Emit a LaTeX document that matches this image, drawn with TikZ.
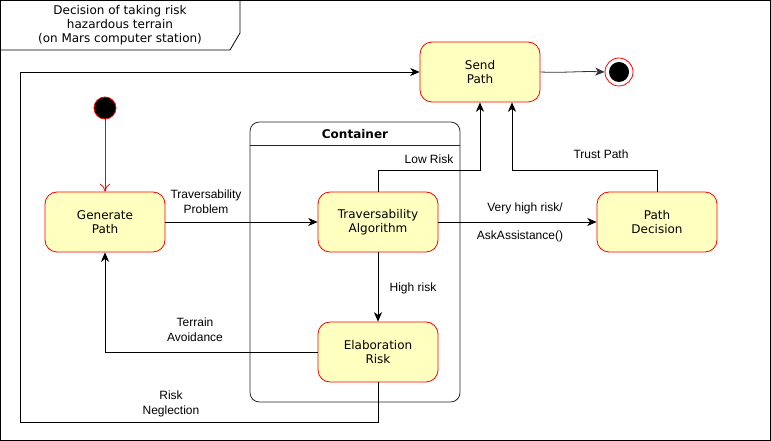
\documentclass[tikz,border=0pt]{standalone}
\usepackage{fontspec}
\setmainfont{DejaVu Sans}
\newfontfamily\lblfont{Liberation Sans}
\usetikzlibrary{arrows.meta}
\definecolor{stfill}{HTML}{FFFFC0}
\definecolor{stred}{HTML}{FF0000}
\begin{document}
\begin{tikzpicture}[x=0.75pt,y=-0.75pt,
  state/.style={draw=stred,fill=stfill,rounded corners=9pt,minimum width=90pt,minimum height=45pt,align=center,font=\fontsize{9}{10.5}\selectfont,line width=0.6pt},
  conn/.style={draw=black,line width=0.6pt,-{Stealth[length=7pt,width=6pt,inset=2pt]}},
  lbl/.style={font=\lblfont\fontsize{9}{11}\selectfont,align=center,inner sep=1pt}]
\useasboundingbox (0,0) rectangle (771,441);
% frame
\draw[line width=0.6pt] (0.5,0.5) rectangle (770.5,440.5);
\draw[line width=0.6pt] (0.5,50) -- (230,50) -- (240,33) -- (240,0.5);
\node[font=\fontsize{9}{10.5}\selectfont,align=center] (title) at (120,25) {Decision of taking risk\\hazardous terrain\\(on Mars computer station)};
% container
\draw[line width=0.6pt,rounded corners=7pt,draw=black!85] (250,122) rectangle (460,402);
\draw[line width=0.6pt,draw=black!85] (250,145) -- (460,145);
\node[font=\bfseries\fontsize{9}{10.5}\selectfont] (cont) at (355,134) {Container};
% states
\node[state] (send) at (480,72) {Send\\Path};
\node[state] (gen) at (105,222) {Generate\\Path};
\node[state] (trav) at (378,222) {Traversability\\Algorithm};
\node[state] (dec) at (657,222) {Path\\Decision};
\node[state] (elab) at (378,352) {Elaboration\\Risk};
% start and end
\node[circle,draw=stred,fill=black,minimum size=16.5pt,inner sep=0pt,line width=0.6pt] (start) at (105,108) {};
\node[circle,draw=stred,fill=white,minimum size=21pt,inner sep=0pt,line width=0.6pt] (endo) at (619,72) {};
\node[circle,fill=black,minimum size=15pt,inner sep=0pt] (endi) at (619,72) {};
% coordinates
\coordinate (lowa) at (378,170);
\coordinate (lowb) at (480,170);
\coordinate (trusta) at (657,170);
\coordinate (trustb) at (512,170);
\coordinate (terr) at (105,352);
\coordinate (nega) at (378,422);
\coordinate (negb) at (20,422);
\coordinate (negc) at (20,72);
% connectors
\draw[draw=stred,line width=0.6pt,-{To[length=6pt,width=8pt]}] (start) -- (gen);
\draw[conn] (gen) -- (trav);
\draw[conn] (trav.north) -- (lowa) -- (lowb) -- (send.south);
\draw[conn] (dec.north) -- (trusta) -- (trustb) -- (trustb |- send.south);
\draw[conn] (trav) -- (dec);
\draw[conn] (trav) -- (elab);
\draw[conn] (elab.west) -- (terr) -- (gen.south);
\draw[conn] (elab.south) -- (nega) -- (negb) -- (negc) -- (send.west);
\draw[conn,draw=black!80] (send.east) .. controls (565,73) and (580,71) .. (endo.west);
% labels
\node[lbl] (l1) at (206,202) {Traversability\\Problem};
\node[lbl] (l2) at (429,159) {Low Risk};
\node[lbl] (l3) at (601,154) {Trust Path};
\node[lbl] (l4) at (525,208) {Very high risk/};
\node[lbl] (l5) at (520,236) {AskAssistance()};
\node[lbl] (l6) at (413,288) {High risk};
\node[lbl] (l7) at (195,330) {Terrain\\Avoidance};
\node[lbl] (l8) at (171,404) {Risk\\Neglection};
\end{tikzpicture}
\end{document}
